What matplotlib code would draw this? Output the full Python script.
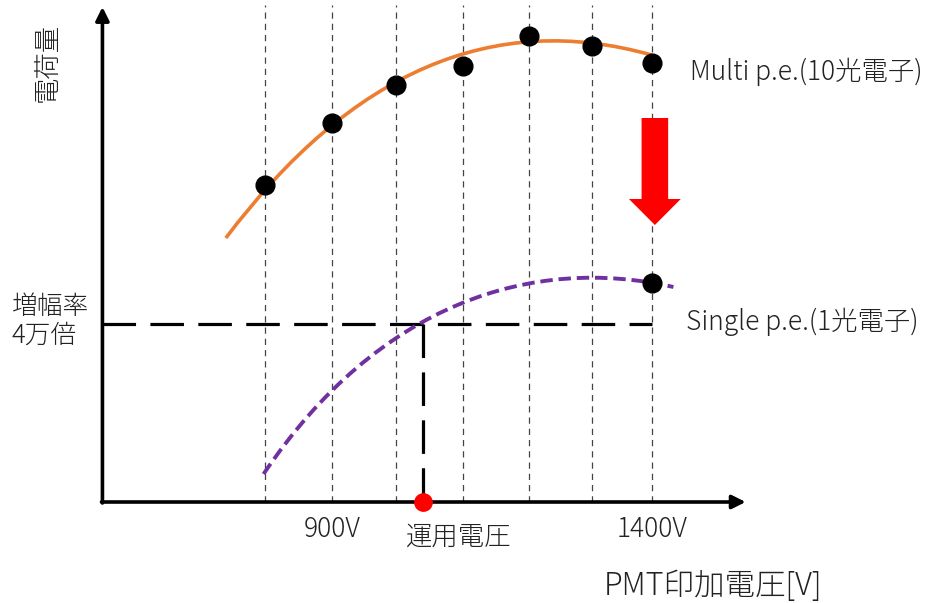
import matplotlib
matplotlib.use('Agg')
import matplotlib.pyplot as plt
import matplotlib.patches as mpatches
from matplotlib.path import Path

# 日本語フォント
plt.rcParams['font.family'] = ['Noto Sans CJK JP', 'DejaVu Sans']
plt.rcParams['font.weight'] = 'light'

# 印加電圧 [V] の目盛り位置（縦の点線）
grid_volts = [795, 900, 1000, 1105, 1208, 1307, 1400]

# Multi p.e. の測定点
multi_charge = [3.17, 3.79, 4.17, 4.36, 4.66, 4.56, 4.39]

# Multi p.e. のカーブ（始点・制御点・終点, 2次ベジェ）
multi_curve_v = [734, 1028, 1400]
multi_curve_q = [2.64, 5.14, 4.47]

# Single p.e. のカーブ（始点・制御点2つ・終点, 3次ベジェ）
single_curve_v = [793, 973, 1214, 1434]
single_curve_q = [0.28, 1.99, 2.47, 2.15]

single_point_v = [1400]
single_point_q = [2.19]

# 運用電圧と増幅率4万倍に対応する電荷量
op_volt = 1042
gain_charge = 1.78

axis_left = 541
axis_right = 1547
axis_top = 4.95

fig = plt.figure(figsize=(9.27, 6.03), dpi=100)
ax = fig.add_axes([0, 0, 1, 1])
ax.set_xlim(380.8, 1830.6)
ax.set_ylim(-1.01, 5.02)
ax.axis('off')

# 縦の点線
ax.vlines(grid_volts, 0, 4.97, colors='#444444', linewidth=0.9,
          linestyles=(0, (5, 4)), zorder=1)

# 軸（矢印付き）
ax.annotate('', xy=(axis_left, axis_top), xytext=(axis_left, -0.01),
            arrowprops=dict(arrowstyle='-|>', lw=2.6, color='black',
                            mutation_scale=20, shrinkA=0, shrinkB=0), zorder=5)
ax.annotate('', xy=(axis_right, 0), xytext=(axis_left - 1.5, 0),
            arrowprops=dict(arrowstyle='-|>', lw=2.6, color='black',
                            mutation_scale=20, shrinkA=0, shrinkB=0), zorder=5)

# 増幅率4万倍の補助線
ax.plot([axis_left, 1400], [gain_charge, gain_charge], color='black', lw=2.3,
        dashes=(10.5, 4.5), dash_capstyle='butt', zorder=3)
ax.plot([op_volt, op_volt], [gain_charge, 0], color='black', lw=2.3,
        dashes=(10.5, 4.5), dash_capstyle='butt', zorder=3)

# カーブ
multi_path = Path(list(zip(multi_curve_v, multi_curve_q)),
                  [Path.MOVETO, Path.CURVE3, Path.CURVE3])
ax.add_patch(mpatches.PathPatch(multi_path, facecolor='none', edgecolor='#ED7D31',
                                lw=2.6, zorder=4))
single_path = Path(list(zip(single_curve_v, single_curve_q)),
                   [Path.MOVETO, Path.CURVE4, Path.CURVE4, Path.CURVE4])
ax.add_patch(mpatches.PathPatch(single_path, facecolor='none', edgecolor='#7030A0',
                                lw=2.8, linestyle=(0, (3.2, 1.5)), capstyle='butt',
                                zorder=4))

# 測定点
ax.plot(grid_volts, multi_charge, 'o', color='black', markersize=13.5, zorder=6)
ax.plot(single_point_v, single_point_q, 'o', color='black', markersize=13.5, zorder=6)
ax.plot([op_volt], [0], 'o', color='#FF0000', markersize=12.5, zorder=7)

# 赤い下向き矢印
arrow = mpatches.FancyArrow(1405, 3.84, 0, -1.07, width=41.6, head_width=81,
                            head_length=0.26, length_includes_head=True,
                            color='#FF0000', linewidth=0, zorder=6)
ax.add_patch(arrow)

# テキスト
text_color = '#222222'
ax.text(454, 4.40, '電荷量', rotation=90, ha='center', va='center',
        fontsize=19, color=text_color)
ax.text(399, 1.81, '増幅率\n4万倍', ha='left', va='center', fontsize=18.5,
        linespacing=1.1, color=text_color)
ax.text(1460, 4.30, 'Multi p.e.(10光電子)', ha='left', va='center',
        fontsize=19, color=text_color)
ax.text(1454, 1.80, 'Single p.e.(1光電子)', ha='left', va='center',
        fontsize=19, color=text_color)
ax.text(900, -0.27, '900V', ha='center', va='center', fontsize=19, color=text_color)
ax.text(1400, -0.27, '1400V', ha='center', va='center', fontsize=19, color=text_color)
ax.text(1099, -0.35, '運用電圧', ha='center', va='center', fontsize=19, color=text_color)
ax.text(1496, -0.84, 'PMT印加電圧[V]', ha='center', va='center', fontsize=22,
        color=text_color)

fig.savefig('out.png', dpi=100)
